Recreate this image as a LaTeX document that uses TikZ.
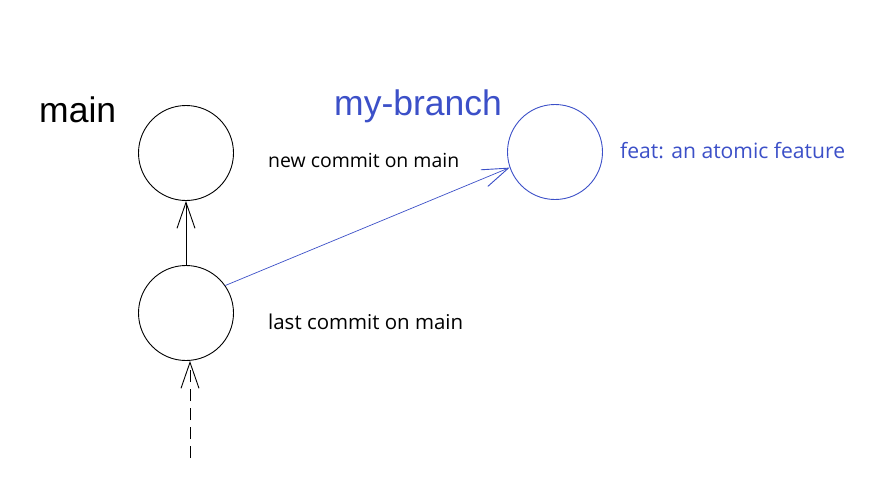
\documentclass[tikz,border=0pt]{standalone}
\usepackage{fontspec}
\usepackage{graphicx}
\setmainfont{Liberation Sans}
\newfontfamily\hand{Open Sans}
\usetikzlibrary{arrows.meta}
\definecolor{branchblue}{RGB}{60,80,200}
\tikzset{
  commit/.style={circle, draw, line width=0.9pt, minimum size=95pt, inner sep=0pt},
  link/.style={line width=0.9pt, -{Straight Barb[length=26pt,width=18pt,line width=0.9pt]}},
  title/.style={font=\fontsize{35.5}{40}\selectfont, inner sep=0pt, anchor=west},
  note/.style={inner sep=0pt, anchor=west},
}
\begin{document}
\begin{tikzpicture}[x=1pt,y=-1pt]
\useasboundingbox[fill=white] (0,0) rectangle (870,499);
\node[commit] (c1) at (186,153) {};
\node[commit] (c0) at (186,313) {};
\node[commit, draw=branchblue] (c2) at (555,152) {};
\coordinate (tail) at (190,458);
\draw[link] (c0.north) -- (c1.south);
\draw[link, draw=branchblue, line width=0.7pt] (c0.35) -- (c2.199);
\draw[link, dash pattern=on 12pt off 7pt] (tail) -- (tail |- c0.south);
\node[title] (tmain) at (39,110) {main};
\node[title, text=branchblue] (tbranch) at (334,106) {my-branch};
\node[note] (lnew) at (268,160) {\resizebox{191pt}{!}{\hand\fontsize{20}{24}\selectfont new commit on main}};
\node[note] (llast) at (268,322) {\resizebox{195pt}{!}{\hand\fontsize{20}{24}\selectfont last commit on main}};
\node[note, text=branchblue] (lfeat) at (620,151) {\resizebox{225pt}{!}{\hand\fontsize{20}{24}\selectfont feat: an atomic feature}};
\end{tikzpicture}
\end{document}
